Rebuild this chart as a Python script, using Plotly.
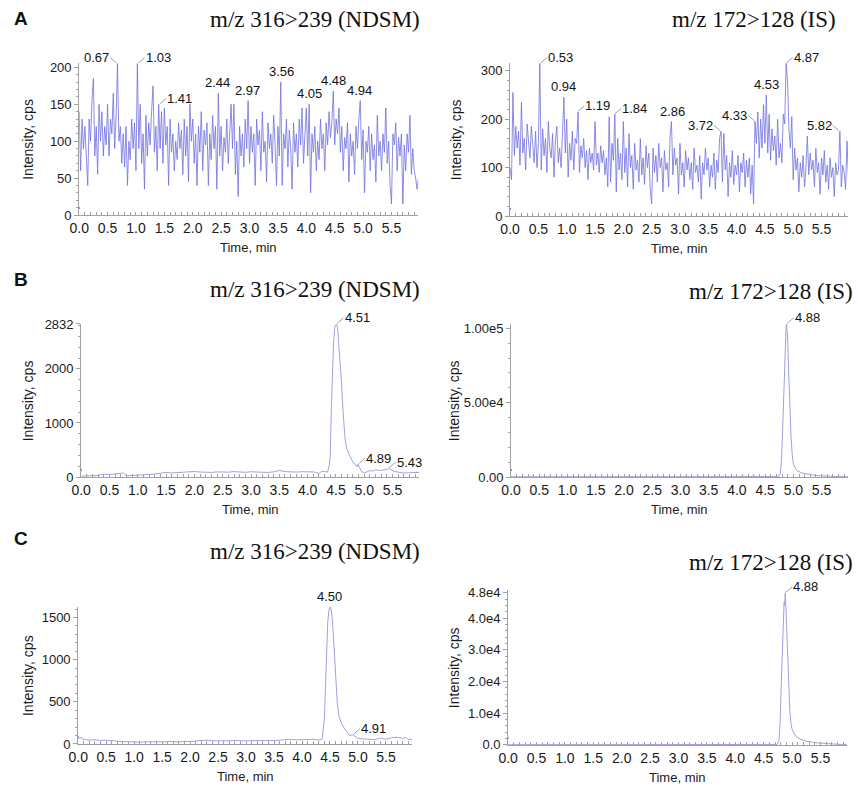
import plotly.graph_objects as go

# ---- panel A: blank samples (noise traces), sampled every 0.025 min ----
TIME_A = [
    0.000, 0.025, 0.050, 0.075, 0.100, 0.125, 0.150, 0.175, 0.200, 0.225, 0.250, 0.275, 0.300, 0.325, 0.350, 0.375, 0.400, 0.425, 0.450, 0.475,
    0.500, 0.525, 0.550, 0.575, 0.600, 0.625, 0.650, 0.675, 0.700, 0.725, 0.750, 0.775, 0.800, 0.825, 0.850, 0.875, 0.900, 0.925, 0.950, 0.975,
    1.000, 1.025, 1.050, 1.075, 1.100, 1.125, 1.150, 1.175, 1.200, 1.225, 1.250, 1.275, 1.300, 1.325, 1.350, 1.375, 1.400, 1.425, 1.450, 1.475,
    1.500, 1.525, 1.550, 1.575, 1.600, 1.625, 1.650, 1.675, 1.700, 1.725, 1.750, 1.775, 1.800, 1.825, 1.850, 1.875, 1.900, 1.925, 1.950, 1.975,
    2.000, 2.025, 2.050, 2.075, 2.100, 2.125, 2.150, 2.175, 2.200, 2.225, 2.250, 2.275, 2.300, 2.325, 2.350, 2.375, 2.400, 2.425, 2.450, 2.475,
    2.500, 2.525, 2.550, 2.575, 2.600, 2.625, 2.650, 2.675, 2.700, 2.725, 2.750, 2.775, 2.800, 2.825, 2.850, 2.875, 2.900, 2.925, 2.950, 2.975,
    3.000, 3.025, 3.050, 3.075, 3.100, 3.125, 3.150, 3.175, 3.200, 3.225, 3.250, 3.275, 3.300, 3.325, 3.350, 3.375, 3.400, 3.425, 3.450, 3.475,
    3.500, 3.525, 3.550, 3.575, 3.600, 3.625, 3.650, 3.675, 3.700, 3.725, 3.750, 3.775, 3.800, 3.825, 3.850, 3.875, 3.900, 3.925, 3.950, 3.975,
    4.000, 4.025, 4.050, 4.075, 4.100, 4.125, 4.150, 4.175, 4.200, 4.225, 4.250, 4.275, 4.300, 4.325, 4.350, 4.375, 4.400, 4.425, 4.450, 4.475,
    4.500, 4.525, 4.550, 4.575, 4.600, 4.625, 4.650, 4.675, 4.700, 4.725, 4.750, 4.775, 4.800, 4.825, 4.850, 4.875, 4.900, 4.925, 4.950, 4.975,
    5.000, 5.025, 5.050, 5.075, 5.100, 5.125, 5.150, 5.175, 5.200, 5.225, 5.250, 5.275, 5.300, 5.325, 5.350, 5.375, 5.400, 5.425, 5.450, 5.475,
    5.500, 5.525, 5.550, 5.575, 5.600, 5.625, 5.650, 5.675, 5.700, 5.725, 5.750, 5.775, 5.800, 5.825, 5.850, 5.875, 5.900, 5.925, 5.950, 5.975,
]

INT_A_NDSM = [
    140, 60, 130, 90, 120, 75, 40, 130, 100, 155, 185, 80, 120, 55, 150, 100, 140, 80, 120, 95,
    150, 80, 130, 110, 165, 90, 135, 205, 100, 120, 70, 110, 65, 120, 40, 100, 75, 130, 90, 125,
    60, 205, 90, 150, 70, 110, 35, 135, 80, 125, 95, 140, 175, 85, 120, 60, 150, 90, 140, 70,
    145, 95, 120, 40, 130, 85, 110, 60, 100, 75, 125, 90, 115, 55, 130, 80, 120, 45, 150, 100,
    130, 70, 110, 40, 120, 85, 140, 60, 115, 95, 125, 40, 110, 75, 135, 90, 120, 35, 165, 80,
    120, 60, 105, 85, 130, 70, 110, 150, 90, 150, 55, 100, 25, 120, 80, 110, 65, 130, 90, 155,
    70, 120, 85, 110, 40, 130, 95, 115, 60, 140, 85, 100, 45, 125, 90, 110, 70, 135, 95, 40,
    120, 80, 180, 40, 110, 90, 130, 65, 115, 90, 35, 125, 85, 110, 65, 130, 95, 145, 70, 105,
    145, 80, 150, 30, 110, 85, 120, 60, 100, 75, 130, 90, 110, 60, 125, 95, 140, 105, 125, 168,
    95, 130, 110, 145, 85, 120, 60, 105, 90, 125, 45, 110, 80, 100, 55, 120, 90, 130, 155, 75,
    115, 30, 100, 85, 120, 60, 110, 75, 95, 45, 135, 80, 100, 60, 110, 85, 145, 70, 100, 40,
    15, 110, 95, 125, 60, 105, 80, 110, 15, 95, 60, 110, 85, 135, 55, 90, 60, 50, 35, 50,
]

INT_A_IS = [
    100, 75, 255, 125, 185, 140, 175, 105, 235, 130, 160, 95, 190, 145, 120, 185, 140, 110, 175, 100,
    150, 315, 95, 180, 125, 160, 90, 195, 140, 120, 170, 80, 155, 185, 110, 140, 100, 190, 245, 130,
    200, 80, 150, 115, 175, 95, 160, 150, 215, 90, 145, 120, 160, 100, 135, 75, 140, 110, 130, 95,
    195, 105, 130, 90, 145, 110, 135, 85, 120, 60, 205, 70, 150, 115, 210, 50, 160, 95, 130, 75,
    195, 90, 140, 60, 170, 100, 125, 55, 150, 95, 115, 70, 160, 85, 120, 65, 145, 100, 130, 55,
    25, 140, 90, 125, 70, 150, 100, 120, 50, 135, 95, 110, 60, 165, 195, 85, 140, 105, 120, 45,
    150, 85, 110, 60, 135, 95, 120, 75, 110, 55, 140, 90, 105, 70, 125, 35, 110, 85, 140, 95,
    120, 60, 105, 80, 130, 55, 115, 90, 160, 175, 70, 170, 95, 125, 40, 110, 80, 135, 65, 105,
    85, 125, 50, 110, 90, 130, 60, 115, 80, 120, 45, 105, 25, 195, 150, 215, 120, 200, 140, 230,
    150, 250, 130, 210, 115, 180, 135, 165, 105, 200, 120, 150, 110, 210, 190, 315, 280, 180, 140, 205,
    75, 140, 95, 120, 50, 110, 80, 125, 60, 100, 165, 85, 130, 95, 115, 60, 140, 90, 110, 45,
    120, 85, 135, 70, 105, 55, 120, 80, 100, 40, 110, 85, 95, 175, 60, 105, 90, 55, 155, 80,
]

# ---- panel B: NDSM sample ----
TIME_B_NDSM = [
    0.00, 0.10, 0.20, 0.30, 0.40, 0.50, 0.60, 0.70, 0.75, 0.80,
    0.90, 1.00, 1.10, 1.20, 1.30, 1.40, 1.50, 1.60, 1.70, 1.80,
    1.90, 2.00, 2.10, 2.20, 2.30, 2.40, 2.50, 2.60, 2.70, 2.80,
    2.90, 3.00, 3.10, 3.20, 3.30, 3.40, 3.50, 3.60, 3.70, 3.80,
    3.90, 4.00, 4.10, 4.20, 4.25, 4.30, 4.35, 4.38, 4.40, 4.42,
    4.44, 4.46, 4.48, 4.51, 4.53, 4.55, 4.57, 4.60, 4.62, 4.64,
    4.66, 4.69, 4.72, 4.76, 4.80, 4.84, 4.87, 4.89, 4.92, 4.95,
    5.00, 5.05, 5.10, 5.15, 5.20, 5.25, 5.30, 5.35, 5.40, 5.43,
    5.48, 5.53, 5.60, 5.70, 5.80, 5.90, 5.97,
]
INT_B_NDSM = [
    18, 25, 30, 28, 55, 42, 60, 65, 73, 22,
    28, 30, 38, 42, 55, 70, 85, 75, 82, 79,
    90, 103, 92, 88, 85, 95, 90, 91, 100, 94,
    88, 97, 92, 90, 85, 95, 121, 100, 92, 91,
    98, 103, 95, 67, 105, 100, 90, 200, 406, 1315,
    2000, 2527, 2780, 2832, 2760, 2500, 2224, 1700, 1315, 950,
    709, 527, 450, 380, 270, 240, 190, 236, 150, 103,
    73, 95, 121, 110, 133, 125, 121, 135, 140, 164,
    130, 103, 90, 73, 80, 78, 85,
]

TIME_B_IS = [
    0.00, 0.50, 1.00, 1.50, 2.00, 2.50, 3.00, 3.50, 4.00, 4.50,
    4.74, 4.77, 4.79, 4.81, 4.83, 4.85, 4.87, 4.88,
    4.90, 4.92, 4.94, 4.96, 4.98, 5.00, 5.04, 5.08, 5.15, 5.25, 5.35, 5.45, 5.60, 5.75, 5.97,
]
INT_B_IS = [
    150, 120, 140, 130, 150, 140, 160, 150, 170, 200,
    300, 2500, 12000, 32000, 60000, 86000, 100000, 103000,
    92000, 68000, 44000, 26000, 15000, 9000, 5500, 4000, 2800, 1900, 1300, 900, 550, 350, 200,
]

# ---- panel C: NDSM sample 2 ----
TIME_C_NDSM = [
    0.00, 0.05, 0.10,
    0.20, 0.30, 0.40, 0.50, 0.60, 0.70, 0.80, 0.90, 1.00, 1.10,
    1.20, 1.30, 1.40, 1.50, 1.60, 1.70, 1.80, 1.90, 2.00, 2.10,
    2.20, 2.30, 2.40, 2.50, 2.60, 2.70, 2.80, 2.90, 3.00, 3.10,
    3.20, 3.30, 3.40, 3.50, 3.60, 3.70, 3.80, 3.90, 4.00, 4.10,
    4.20, 4.30,
    4.36, 4.40, 4.42, 4.44, 4.46, 4.48, 4.50, 4.52, 4.54, 4.56,
    4.58, 4.60, 4.63, 4.66, 4.70, 4.75, 4.80, 4.85, 4.91, 4.96,
    5.00, 5.10, 5.20, 5.30, 5.40, 5.50, 5.60, 5.70, 5.80, 5.85, 5.90, 5.97,
]
INT_C_NDSM = [
    60, 75, 55,
    45, 50, 40, 45, 38, 30, 25, 28, 22, 20,
    25, 22, 28, 24, 30, 26, 22, 30, 28, 35,
    40, 45, 38, 35, 40, 36, 42, 38, 35, 40,
    38, 42, 36, 40, 45, 50, 55, 48, 52, 48,
    55, 46,
    60, 300, 793, 1150, 1450, 1580, 1625, 1600, 1490, 1300,
    1103, 850, 484, 329, 250, 193, 150, 98, 110, 80,
    66, 60, 55, 50, 70, 55, 74, 80, 66, 75, 55, 55,
]

TIME_C_IS = [
    0.00, 0.50, 1.00, 1.50, 2.00, 2.50, 3.00, 3.50, 4.00, 4.50,
    4.74, 4.77, 4.79, 4.81, 4.83, 4.85, 4.86, 4.87, 4.88,
    4.90, 4.92, 4.94, 4.96, 4.98, 5.00, 5.04, 5.08, 5.15, 5.25, 5.40, 5.60, 5.80, 5.97,
]
INT_C_IS = [
    60, 50, 60, 55, 60, 50, 60, 55, 65, 80,
    150, 1500, 7000, 19000, 33000, 44000, 45000, 44000, 48000,
    40000, 28000, 18000, 11000, 7000, 5000, 3500, 2500, 1800, 1200, 700, 350, 200, 150,
]

# peak labels: (retention time, where the label sits)
PEAKS_A_NDSM = [(0.67, "left"), (1.03, "right"), (1.41, "right"), (2.44, "above"), (2.97, "above"),
                (3.56, "above"), (4.05, "above"), (4.48, "above"), (4.94, "above")]
PEAKS_A_IS = [(0.53, "right"), (0.94, "above"), (1.19, "right"), (1.84, "right"), (2.86, "above"),
              (3.72, "left"), (4.33, "left"), (4.53, "above"), (4.87, "right"), (5.82, "left")]
PEAKS_B_NDSM = [(4.51, "right"), (4.89, "right"), (5.43, "right")]
PEAKS_B_IS = [(4.88, "right")]
PEAKS_C_NDSM = [(4.50, "above"), (4.91, "right")]
PEAKS_C_IS = [(4.88, "right")]

TITLE_NDSM = "m/z 316>239 (NDSM)"
TITLE_IS = "m/z 172>128 (IS)"

for t, v in [(TIME_A, INT_A_NDSM), (TIME_A, INT_A_IS), (TIME_B_NDSM, INT_B_NDSM),
             (TIME_B_IS, INT_B_IS), (TIME_C_NDSM, INT_C_NDSM), (TIME_C_IS, INT_C_IS)]:
    assert len(t) == len(v), (len(t), len(v))

W, H = 858, 801
SANS = "Liberation Sans, Arial, sans-serif"
XTICK_FONT = dict(family=SANS, size=14, color="#1a1a1a")
YTICK_FONT = dict(family=SANS, size=13, color="#1a1a1a")
AXIS_GREY = "#a0a0a0"

fig = go.Figure()
annotations = []
shapes = []


def px_x(p):
    return p / W


def px_y(p):
    return 1 - p / H


def add_panel(idx, times, values, box, yrange, tickvals, ticktext, minor_dtick,
              color, width, peaks, title, title_right, title_y, ylabel_gap):
    """
    one chromatogram panel; box = (left, top, right, bottom) in pixels
    """
    xa = "x" if idx == 1 else f"x{idx}"
    ya = "y" if idx == 1 else f"y{idx}"
    left, top, right, bottom = box

    fig.add_trace(go.Scatter(
        x=times, y=values, mode="lines", xaxis=xa, yaxis=ya,
        line=dict(color=color, width=width), showlegend=False,
        hoverinfo="skip",
    ))

    fig.layout[f"xaxis{'' if idx == 1 else idx}"] = dict(
        domain=[px_x(left), px_x(right)], range=[0, 5.97], anchor=ya,
        showline=True, linecolor=AXIS_GREY, linewidth=1,
        ticks="inside", ticklen=3, tickcolor=AXIS_GREY,
        tick0=0, dtick=0.5, tickformat=".1f", tickfont=XTICK_FONT,
        minor=dict(dtick=0.1, ticks="inside", ticklen=3, tickcolor=AXIS_GREY),
        showgrid=False, zeroline=False, fixedrange=True,
    )
    fig.layout[f"yaxis{'' if idx == 1 else idx}"] = dict(
        domain=[px_y(bottom), px_y(top)], range=yrange, anchor=xa,
        showline=True, linecolor=AXIS_GREY, linewidth=1,
        ticks="outside", ticklen=4, tickcolor=AXIS_GREY,
        tickvals=tickvals, ticktext=ticktext, tickfont=YTICK_FONT,
        minor=dict(dtick=minor_dtick, tick0=0, ticks="outside", ticklen=2, tickcolor=AXIS_GREY),
        showgrid=False, zeroline=False, fixedrange=True,
    )

    # peak labels, height taken from the trace itself
    for rt, where in peaks:
        near = [v for t, v in zip(times, values) if abs(t - rt) <= 0.03]
        top_val = max(near)
        base = dict(x=rt, y=top_val, xref=xa, yref=ya, text=f"{rt:.2f}",
                    font=dict(family=SANS, size=13, color="#111"))
        if where == "above":
            annotations.append(dict(base, showarrow=False, yanchor="bottom", yshift=1))
        else:
            sign = 1 if where == "right" else -1
            annotations.append(dict(
                base, showarrow=True, arrowhead=0, arrowwidth=0.8, arrowcolor="#8a8a8a",
                ax=7 * sign, ay=-6, xanchor="left" if sign > 0 else "right",
                yanchor="middle", standoff=1, borderpad=0,
            ))

    # titles
    annotations.append(dict(
        x=px_x(title_right), y=px_y(title_y), xref="paper", yref="paper",
        text=title, showarrow=False, xanchor="right", yanchor="middle",
        font=dict(family="Liberation Serif, Times New Roman, serif", size=23, color="#111"),
    ))
    annotations.append(dict(
        x=(px_x(left) + px_x(right)) / 2, y=px_y(bottom + 33), xref="paper", yref="paper",
        text="Time, min", showarrow=False, xanchor="center", yanchor="middle",
        font=dict(family=SANS, size=13, color="#1a1a1a"),
    ))
    annotations.append(dict(
        x=px_x(left - ylabel_gap), y=(px_y(top) + px_y(bottom)) / 2, xref="paper", yref="paper",
        text="Intensity, cps", showarrow=False, textangle=-90,
        xanchor="center", yanchor="middle",
        font=dict(family=SANS, size=14, color="#1a1a1a"),
    ))

    # blue start marker on the time axis
    shapes.append(dict(
        type="path", xref=xa, yref=ya, xsizemode="pixel", ysizemode="pixel",
        xanchor=0, yanchor=0, path="M-5,2 L1,7 L-5,12 Z",
        fillcolor="#1a1ad0", line=dict(width=0), layer="above",
    ))


A_COLOR = "rgb(112, 112, 224)"
BC_COLOR = "rgb(160, 160, 228)"

add_panel(1, TIME_A, INT_A_NDSM, (70, 57, 413, 212), [0, 206],
          [0, 50, 100, 150, 200], ["0", "50", "100", "150", "200"], 10,
          A_COLOR, 0.8, PEAKS_A_NDSM, TITLE_NDSM, 417, 13, 52)
add_panel(2, TIME_A, INT_A_IS, (506, 57, 848, 213), [0, 316],
          [0, 100, 200, 300], ["0", "100", "200", "300"], 20,
          A_COLOR, 0.8, PEAKS_A_IS, TITLE_IS, 838, 13, 54)
add_panel(3, TIME_B_NDSM, INT_B_NDSM, (72, 323, 414, 479), [0, 2832],
          [0, 1000, 2000, 2832], ["0", "1000", "2000", "2832"], 200,
          BC_COLOR, 1, PEAKS_B_NDSM, TITLE_NDSM, 417, 288, 53)
add_panel(4, TIME_B_IS, INT_B_IS, (507, 323, 848, 479), [0, 103000],
          [0, 50000, 100000], ["0.00", "5.00e4", "1.00e5"], 10000,
          BC_COLOR, 1, PEAKS_B_IS, TITLE_IS, 855, 290, 57)
add_panel(5, TIME_C_NDSM, INT_C_NDSM, (69, 611, 407, 751), [0, 1630],
          [0, 500, 1000, 1500], ["0", "500", "1000", "1500"], 100,
          BC_COLOR, 1, PEAKS_C_NDSM, TITLE_NDSM, 417, 555, 51)
add_panel(6, TIME_C_IS, INT_C_IS, (504, 594, 847, 752), [0, 48900],
          [0, 10000, 20000, 30000, 40000, 48000], ["0.0", "1.0e4", "2.0e4", "3.0e4", "4.0e4", "4.8e4"], 2000,
          BC_COLOR, 1, PEAKS_C_IS, TITLE_IS, 855, 566, 54)

# panel letters
for letter, y in [("A", 12), ("B", 278), ("C", 542)]:
    annotations.append(dict(
        x=px_x(2), y=px_y(y), xref="paper", yref="paper", text=f"<b>{letter}</b>",
        showarrow=False, xanchor="left", yanchor="middle",
        font=dict(family=SANS, size=19, color="#111"),
    ))

fig.update_layout(
    width=W, height=H,
    margin=dict(l=0, r=0, t=0, b=0),
    paper_bgcolor="white", plot_bgcolor="white",
    annotations=annotations, shapes=shapes,
    showlegend=False,
)

# the page's default body margin would push the figure off the window
fig.write_html(
    "out.html",
    config={"displayModeBar": False},
    post_script="document.body.style.margin='0';document.body.style.overflow='hidden';",
)
